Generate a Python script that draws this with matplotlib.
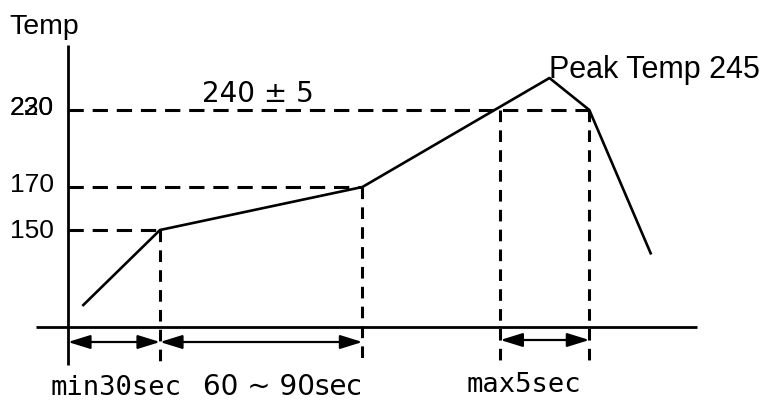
import numpy as np
import matplotlib
matplotlib.use("Agg")
import matplotlib.pyplot as plt

# ---------------- data (schematic reflow profile) ----------------
profile_time = [5, 30, 96, 157, 170, 190]        # seconds (schematic)
profile_temp = [34, 150, 170, 245, 230, 114]     # deg C
level_temps = [150, 170, 230]                    # dashed guide temperatures
level_ends = [30, 96, 170]                       # time where each guide ends
guide_times = [30, 96, 141, 170]                 # vertical guide times
guide_tops = [150, 170, 230, 230]                # vertical guide start temps
tick_labels = ["150", "170", "230"]
overlay_label = "220"
span_starts = [0, 30, 141]
span_ends = [30, 96, 170]
span_labels = ["min30sec", "60 ~ 90sec", "max5sec"]
peak_label = "Peak Temp 245"
band_label = "240 ± 5"

# ---------------- schematic (non-linear) temperature scale ----------------
Tk = np.array([0, 150, 170, 230, 245], float)
Pk = np.array([0, 97, 140, 217, 249], float)
s0 = (Pk[1] - Pk[0]) / (Tk[1] - Tk[0])
s1 = (Pk[-1] - Pk[-2]) / (Tk[-1] - Tk[-2])

def fwd(t):
    t = np.asarray(t, float)
    p = np.interp(t, Tk, Pk)
    p = np.where(t < Tk[0], Pk[0] + (t - Tk[0]) * s0, p)
    p = np.where(t > Tk[-1], Pk[-1] + (t - Tk[-1]) * s1, p)
    return p

def inv(p):
    p = np.asarray(p, float)
    t = np.interp(p, Pk, Tk)
    t = np.where(p < Pk[0], Tk[0] + (p - Pk[0]) / s0, t)
    t = np.where(p > Pk[-1], Tk[-1] + (p - Pk[-1]) / s1, t)
    return t

W, H = 764, 401
BASE = 327          # pixel row of the time axis
X0 = 68             # pixel column of the temp axis
K = 92 / 30         # pixels per second

fig = plt.figure(figsize=(W / 100, H / 100), dpi=100)
ax = fig.add_axes([0, 0, 1, 1])
ax.set_yscale("function", functions=(fwd, inv))
ax.set_xlim((0 - X0) / K, (W - X0) / K)
ax.set_ylim(float(inv(BASE - H)), float(inv(BASE)))
ax.axis("off")

def ty(py):  # pixel row -> temperature in this schematic scale
    return float(inv(BASE - py))

def tx(px):
    return (px - X0) / K

# axes
ax.plot([tx(36), tx(697)], [0, 0], color="k", lw=2.0, solid_capstyle="butt")
ax.plot([0, 0], [ty(365), ty(45)], color="k", lw=2.0, solid_capstyle="butt")

# profile
ax.plot(profile_time, profile_temp, color="k", lw=1.9)

# horizontal dashed guides
for t, xe in zip(level_temps, level_ends):
    ax.plot([0, xe], [t, t], color="k", lw=2.2, dashes=(5.0, 2.9))

# vertical dashed guides
bottoms = [ty(362), ty(362), ty(368), ty(368)]
for x, top, b in zip(guide_times, guide_tops, bottoms):
    ax.plot([x, x], [top, b], color="k", lw=2.2, dashes=(3.8, 2.7))

# double arrows
arrow_rows = [342, 342, 340]
for s, e, r in zip(span_starts, span_ends, arrow_rows):
    ax.annotate("", xy=(e, ty(r)), xytext=(s, ty(r)),
                arrowprops=dict(arrowstyle="<|-|>,head_length=1.35,head_width=0.42",
                                mutation_scale=10, lw=1.6, color="k",
                                shrinkA=0, shrinkB=0))

# ---------------- text ----------------
def F(px, py):
    return px / W, 1 - py / H

ft = fig.transFigure
fig.text(*F(9, 34), "Temp", family="Liberation Sans", fontsize=20.5,
         va="baseline", ha="left", transform=ft)
for lab, row in zip(tick_labels, [238, 192, 115]):
    fig.text(*F(54, row), lab, family="Liberation Sans", fontsize=19,
             va="baseline", ha="right", transform=ft)
fig.text(*F(54, 115), overlay_label, family="Liberation Sans", fontsize=19,
         va="baseline", ha="right", transform=ft)
fig.text(*F(202, 102), band_label, family="DejaVu Sans", fontsize=20,
         va="baseline", ha="left", transform=ft)
fig.text(*F(549, 78), peak_label, family="Liberation Sans", fontsize=22,
         va="baseline", ha="left", transform=ft)
for lab, (px, py), fam, fs in zip(span_labels, [(51, 395), (203, 395), (467, 392)],
                                  ["DejaVu Sans Mono", "DejaVu Sans", "DejaVu Sans Mono"],
                                  [19.5, 20, 19.5]):
    fig.text(*F(px, py), lab, family=fam, fontsize=fs,
             va="baseline", ha="left", transform=ft)

fig.savefig("out.png", dpi=100)
